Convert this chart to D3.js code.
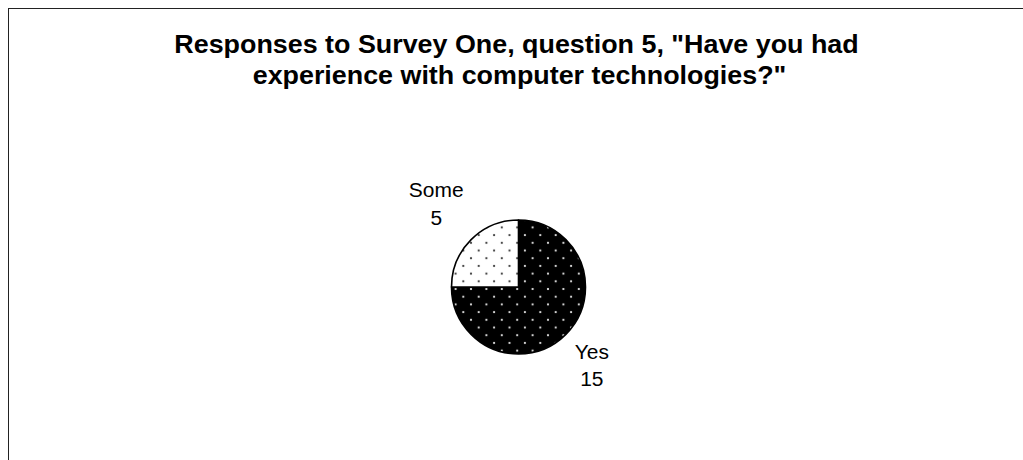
<!DOCTYPE html>
<html>
<head>
<meta charset="utf-8">
<script src="https://cdn.jsdelivr.net/npm/d3@7"></script>
<style>
  html, body { margin: 0; padding: 0; background: #fff; }
  svg { display: block; font-family: "Liberation Sans", Arial, sans-serif; }
</style>
</head>
<body>
<svg id="chart" width="1023" height="460"></svg>
<script>
// Survey responses
const categories = ["Yes", "Some"];
const counts = [15, 5];
const titleLines = [
  "Responses to Survey One, question 5, \"Have you had",
  "experience with computer technologies?\""
];

const svg = d3.select("#chart");
const W = 1023, H = 460;
const stretch = 1.075; // text is set slightly wide

// chart frame (right and bottom edges run off the page)
svg.append("rect")
  .attr("x", 8.5).attr("y", 8.5)
  .attr("width", W + 20).attr("height", H + 20)
  .attr("fill", "#fff").attr("stroke", "#222").attr("stroke-width", 1);

// dotted fills
const defs = svg.append("defs");
function dotPattern(id, bg, dot) {
  const s = 15.4, d = 2;
  const p = defs.append("pattern")
    .attr("id", id)
    .attr("patternUnits", "userSpaceOnUse")
    .attr("x", 522.3).attr("y", 217.6)
    .attr("width", s).attr("height", s);
  p.append("rect").attr("width", s).attr("height", s).attr("fill", bg);
  [[s / 2, s / 2], [0, 0], [s, 0], [0, s], [s, s]].forEach(([x, y]) => {
    p.append("rect")
      .attr("x", x - d / 2).attr("y", y - d / 2)
      .attr("width", d).attr("height", d).attr("fill", dot);
  });
}
dotPattern("dotsDark", "#000", "#cfcfcf");
dotPattern("dotsLight", "#fff", "#4a4a4a");
const fills = { "Yes": "url(#dotsDark)", "Some": "url(#dotsLight)" };

// title, two centred lines
const titleX = [516.5, 519.5];
const titleY = [53, 84];
svg.selectAll("text.title")
  .data(titleLines)
  .join("text")
  .attr("class", "title")
  .attr("font-size", 25)
  .attr("font-weight", "bold")
  .attr("fill", "#000")
  .attr("text-anchor", "middle")
  .attr("transform", (d, i) => `translate(${titleX[i]},${titleY[i]}) scale(${stretch},1)`)
  .text(d => d);

// pie
const cx = 518.5, cy = 287, r = 67;
const data = categories.map((c, i) => ({ cat: c, value: counts[i] }));
const pie = d3.pie().sort(null).value(d => d.value);
const arcs = pie(data);
const arc = d3.arc().innerRadius(0).outerRadius(r);
const labelArc = d3.arc().innerRadius(110).outerRadius(110);

const g = svg.append("g").attr("transform", `translate(${cx},${cy})`);
g.selectAll("path.slice")
  .data(arcs)
  .join("path")
  .attr("class", "slice")
  .attr("d", arc)
  .attr("fill", d => fills[d.data.cat])
  .attr("stroke", "#000")
  .attr("stroke-width", 1.6)
  .attr("stroke-linejoin", "round");

// data labels: category name over its count
const lbl = g.selectAll("text.lbl")
  .data(arcs)
  .join("text")
  .attr("class", "lbl")
  .attr("font-size", 19.5)
  .attr("fill", "#000")
  .attr("text-anchor", "middle")
  .attr("transform", d => {
    const [x, y] = labelArc.centroid(d);
    const yOff = y < 0 ? -12 : -6;
    return `translate(${x - 4.5},${y + yOff}) scale(${stretch},1)`;
  });
lbl.append("tspan").attr("x", 0).attr("y", 0).text(d => d.data.cat);
lbl.append("tspan").attr("x", 0).attr("y", 27.5).text(d => d.data.value);
</script>
</body>
</html>
